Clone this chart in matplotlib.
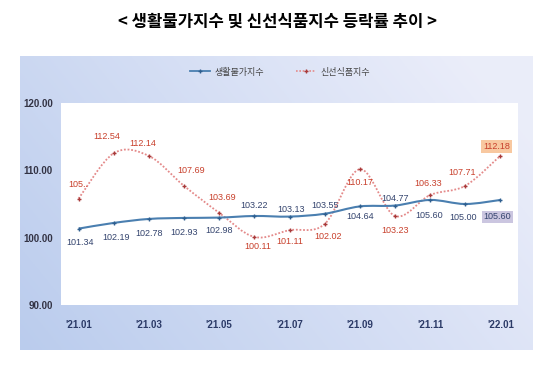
import matplotlib
matplotlib.use('Agg')
import matplotlib.pyplot as plt
from matplotlib.path import Path
from matplotlib.patches import PathPatch
from matplotlib.lines import Line2D
import numpy as np

# chart data
months = ["'21.01", "'21.02", "'21.03", "'21.04", "'21.05", "'21.06", "'21.07",
          "'21.08", "'21.09", "'21.10", "'21.11", "'21.12", "'22.01"]
living = [101.34, 102.19, 102.78, 102.93, 102.98, 103.22, 103.13,
          103.55, 104.64, 104.77, 105.60, 105.00, 105.60]
fresh = [105.80, 112.54, 112.14, 107.69, 103.69, 100.11, 101.11,
         102.02, 110.17, 103.23, 106.33, 107.71, 112.18]
fresh_text = ['105..', '112.54', '112.14', '107.69', '103.69', '100.11', '101.11',
              '102.02', '110.17', '103.23', '106.33', '107.71', '112.18']
series_names = ['생활물가지수', '신선식품지수']
yticks = [90, 100, 110, 120]

# label offsets in pixels (dx, dy)
living_off = [(2, -14), (2, -15), (0, -15), (0, -15), (0, -13), (0, 10), (2, 7),
              (0, 8), (0, -10), (0, 7), (-1, -16), (-2, -13), (-3, -17)]
fresh_off = [(0, 14), (-7, 17), (-6, 12), (7, 15), (3, 15), (3, -10), (0, -11),
             (3, -12), (0, -13), (0, -15), (-2, 12), (-3, 13), (-4, 9)]

W, H = 554, 383
fig = plt.figure(figsize=(W / 100, H / 100), dpi=100)
fig.patch.set_facecolor('white')

kr = ['Noto Sans CJK KR', 'DejaVu Sans']
num_font = ['Liberation Sans Narrow', 'Liberation Sans', 'DejaVu Sans']

def fig_box(x0, y0, x1, y1):
    return [x0 / W, 1 - y1 / H, (x1 - x0) / W, (y1 - y0) / H]

# gradient background panel
bg = fig.add_axes(fig_box(20, 56, 533, 350))
gx, gy = np.meshgrid(np.linspace(0, 1, 200), np.linspace(0, 1, 120))
t = np.clip(0.75 * gx + 0.35 * gy, 0, 1)
c0 = np.array([0.73, 0.80, 0.93])
c1 = np.array([0.92, 0.93, 0.98])
img = c0[None, None, :] * (1 - t[..., None]) + c1[None, None, :] * t[..., None]
bg.imshow(img, aspect='auto', extent=(0, 1, 0, 1), origin='lower')
bg.axis('off')

# plot area
ax = fig.add_axes(fig_box(61, 103, 518, 305))
ax.set_facecolor('white')
for s in ax.spines.values():
    s.set_visible(False)
ax.set_xlim(-0.5, len(months) - 0.5)
ax.set_ylim(90, 120)
ax.set_yticks(yticks)
ax.set_yticklabels(['%.2f' % v for v in yticks], fontsize=7, fontweight='bold',
                   color='#333344', family=num_font)
ax.set_xticks(range(0, len(months), 2))
ax.set_xticklabels(months[::2], fontsize=7, fontweight='bold', color='#2b3a67',
                   family=num_font)
ax.tick_params(axis='y', length=0, pad=6)
ax.tick_params(axis='x', length=0, pad=11)


def smooth_path(xs, ys):
    pts = np.column_stack([xs, ys]).astype(float)
    n = len(pts)
    verts = [pts[0]]
    codes = [Path.MOVETO]
    for i in range(n - 1):
        p0 = pts[i - 1] if i > 0 else pts[i]
        p1 = pts[i]
        p2 = pts[i + 1]
        p3 = pts[i + 2] if i + 2 < n else pts[i + 1]
        verts += [p1 + (p2 - p0) / 6, p2 - (p3 - p1) / 6, p2]
        codes += [Path.CURVE4] * 3
    return Path(verts, codes)


x = np.arange(len(months))

# 신선식품지수 (red dotted)
ax.add_patch(PathPatch(smooth_path(x, fresh), fill=False, edgecolor='#e48a8a',
                       linewidth=1.3, linestyle=(0, (1, 1)), zorder=3))
ax.plot(x, fresh, ls='none', marker='+', ms=3, mew=1, color='#a83a3a', zorder=4)

# 생활물가지수 (blue)
ax.add_patch(PathPatch(smooth_path(x, living), fill=False, edgecolor='#4a7fb0',
                       linewidth=1.5, zorder=3))
ax.plot(x, living, ls='none', marker='+', ms=3, mew=1, color='#2f5f8f', zorder=4)

for i, v in enumerate(living):
    dx, dy = living_off[i]
    bbox = None
    if i == len(living) - 1:
        bbox = dict(boxstyle='square,pad=0.2', fc='#cbc6e0', ec='none')
    ax.annotate('%.2f' % v, (x[i], v), xytext=(dx, dy), textcoords='offset pixels',
                ha='center', va='center', fontsize=6.5, color='#34446e',
                family=num_font, bbox=bbox, zorder=5)

for i, v in enumerate(fresh):
    dx, dy = fresh_off[i]
    bbox = None
    if i == len(fresh) - 1:
        bbox = dict(boxstyle='square,pad=0.2', fc='#f8c8a0', ec='none')
    ax.annotate(fresh_text[i], (x[i], v), xytext=(dx, dy), textcoords='offset pixels',
                ha='center', va='center', fontsize=6.5, color='#c8402c',
                family=num_font, bbox=bbox, zorder=5)

# legend
handles = [Line2D([], [], color='#4a7fb0', lw=1.3, marker='+', ms=3, mec='#2f5f8f'),
           Line2D([], [], color='#e48a8a', lw=1.2, ls=(0, (1, 1)), marker='+', ms=3,
                  mec='#a83a3a')]
leg = fig.legend(handles, series_names, loc='center', bbox_to_anchor=(280 / W, 1 - 72 / H),
                 ncol=2, frameon=False, prop={'family': kr, 'size': 6.5},
                 handlelength=2.2, columnspacing=3.5, handletextpad=0.5)
for txt in leg.get_texts():
    txt.set_color('#444444')

# title
fig.text(277 / W, 1 - 22 / H, '< 생활물가지수 및 신선식품지수 등락률 추이 >',
         ha='center', va='center', fontsize=12, fontweight='bold', family=kr)

fig.savefig('out.png', dpi=100, facecolor='white')
